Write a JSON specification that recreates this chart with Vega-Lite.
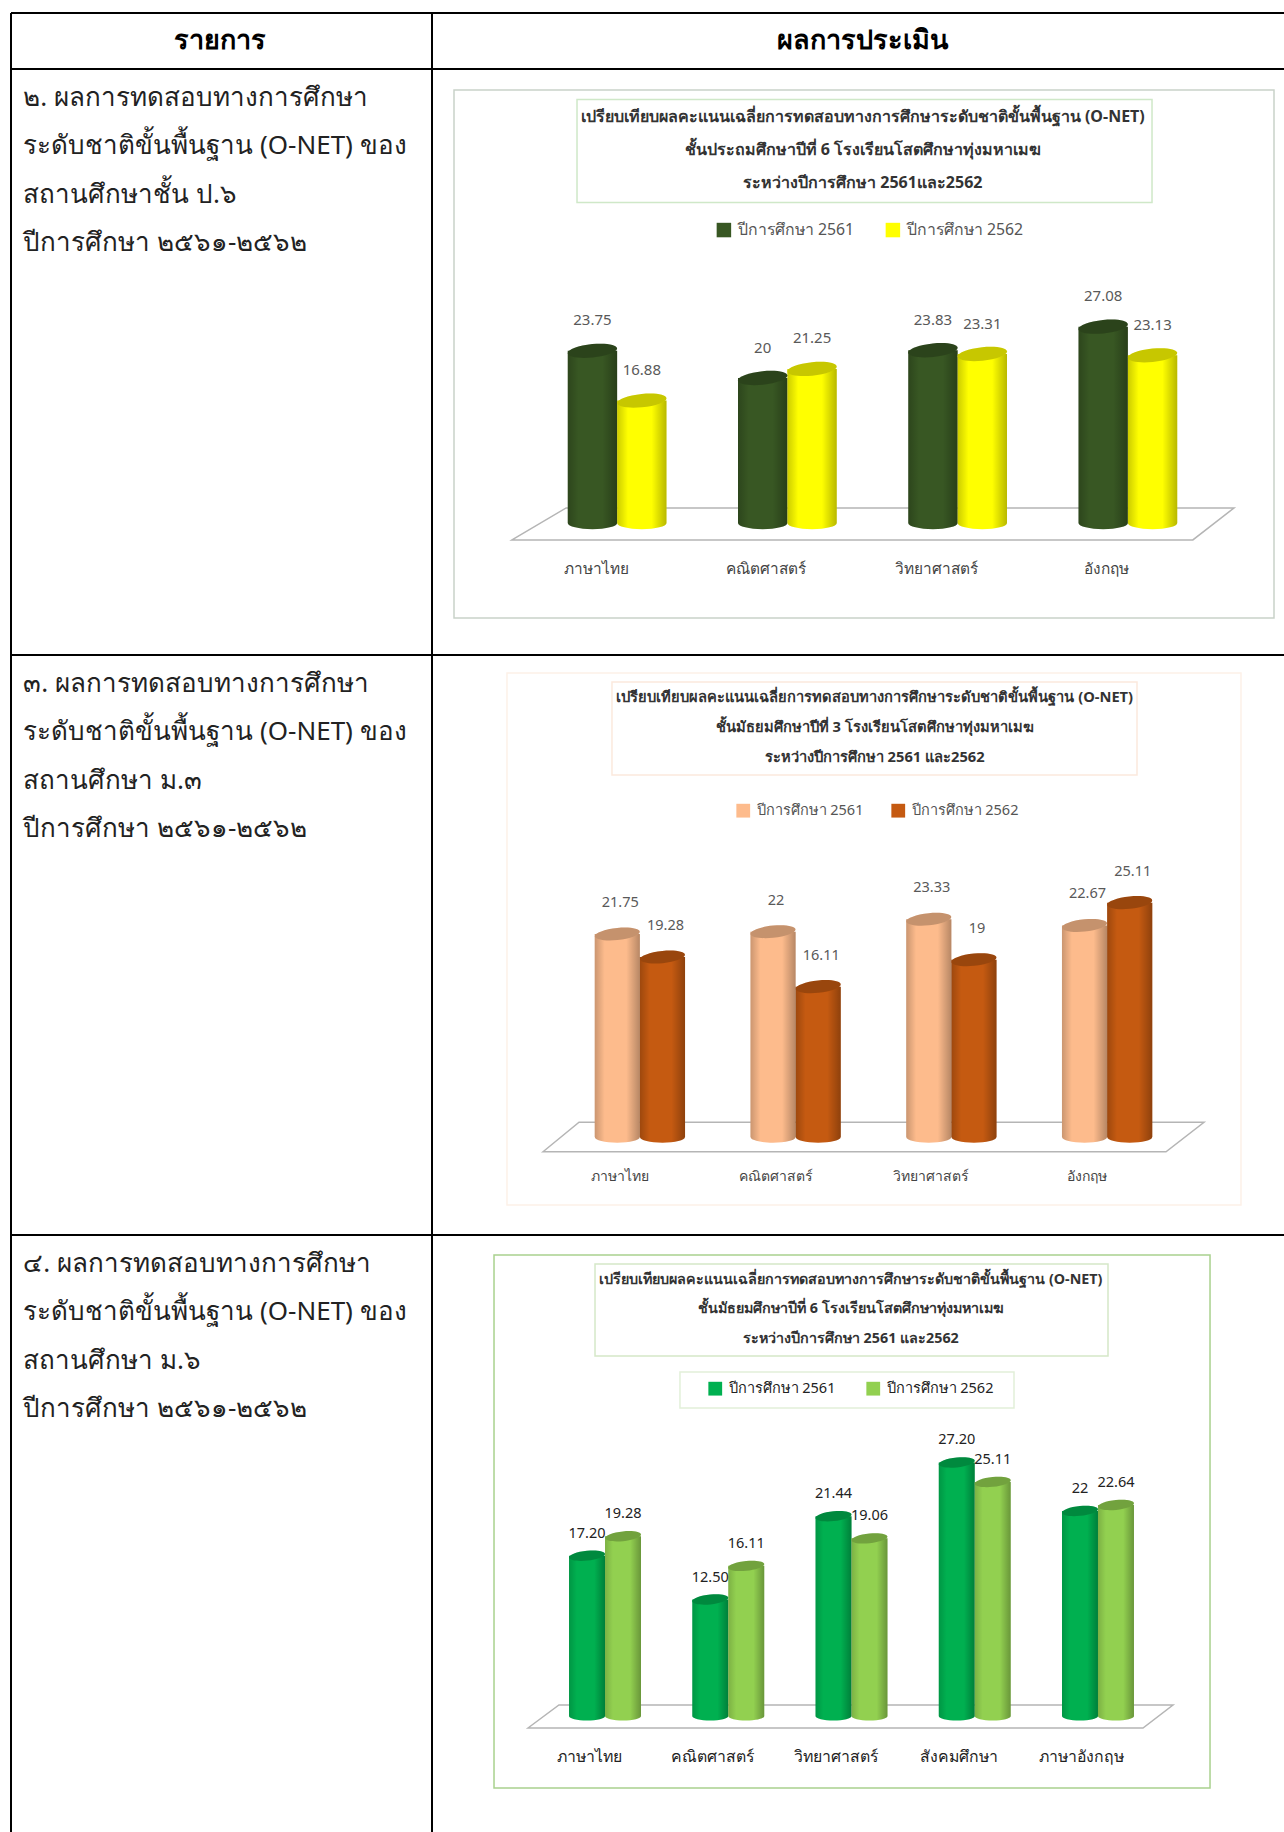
{"$schema":"https://vega.github.io/schema/vega-lite/v6.json","background":"white","padding":{"left":10,"top":12,"right":0,"bottom":0},"columns":2,"spacing":0,"align":"each","bounds":"flush","resolve":{"scale":{"color":"independent","xOffset":"independent"},"legend":{"color":"independent"}},"config":{"view":{"stroke":null},"font":"Noto Sans"},
"concat":[
{"width":421,"height":56,"layer":[
 {"data":{"values":[{}]},"mark":{"type":"rule","stroke":"black","strokeWidth":2},"encoding":{"y":{"datum":0,"type":"quantitative","scale":{"domain":[0,100],"reverse":true},"axis":null}}},
 {"data":{"values":[{}]},"mark":{"type":"rule","stroke":"black","strokeWidth":2},"encoding":{"x":{"datum":0,"type":"quantitative","scale":{"domain":[0,100]},"axis":null}}},
 {"data":{"values":[{"t":"รายการ"}]},"mark":{"type":"text","fontSize":27,"fontWeight":"bold","color":"black"},"encoding":{"x":{"datum":49.7,"type":"quantitative"},"text":{"field":"t"}}}]},
{"width":853,"height":56,"layer":[
 {"data":{"values":[{}]},"mark":{"type":"rule","stroke":"black","strokeWidth":2},"encoding":{"y":{"datum":0,"type":"quantitative","scale":{"domain":[0,100],"reverse":true},"axis":null}}},
 {"data":{"values":[{}]},"mark":{"type":"rule","stroke":"black","strokeWidth":2},"encoding":{"x":{"datum":0,"type":"quantitative","scale":{"domain":[0,100]},"axis":null}}},
 {"data":{"values":[{"t":"ผลการประเมิน"}]},"mark":{"type":"text","fontSize":27,"fontWeight":"bold","color":"black"},"encoding":{"x":{"datum":50.5,"type":"quantitative"},"text":{"field":"t"}}}]},
{"width":421,"height":586,"layer":[
 {"data":{"values":[{}]},"mark":{"type":"rule","stroke":"black","strokeWidth":2},"encoding":{"y":{"datum":0,"type":"quantitative","scale":{"domain":[0,100],"reverse":true},"axis":null}}},
 {"data":{"values":[{}]},"mark":{"type":"rule","stroke":"black","strokeWidth":2},"encoding":{"x":{"datum":0,"type":"quantitative","scale":{"domain":[0,100]},"axis":null}}},
 {"data":{"values":[{"line":1,"text":"๒. ผลการทดสอบทางการศึกษา"},{"line":2,"text":"ระดับชาติขั้นพื้นฐาน (O-NET) ของ"},{"line":3,"text":"สถานศึกษาชั้น ป.๖"},{"line":4,"text":"ปีการศึกษา ๒๕๖๑-๒๕๖๒"}]},"mark":{"type":"text","align":"left","baseline":"middle","fontSize":26,"color":"#222222"},"encoding":{"x":{"datum":2.9,"type":"quantitative","scale":{"domain":[0,100]},"axis":null},"y":{"field":"line","type":"quantitative","scale":{"domain":[0.4,12.53],"reverse":true},"axis":null},"text":{"field":"text"}}}],"resolve":{"scale":{"x":"independent","y":"independent"}}},
{"width":853,"height":586,"resolve":{"scale":{"x":"independent","y":"independent"}},"layer":[
 {"data":{"values":[{}]},"layer":[
  {"mark":{"type":"rect","fill":"white","stroke":"#c9d2c9","strokeWidth":1.5},"encoding":{"x":{"datum":2.58,"type":"quantitative","scale":{"domain":[0,100]},"axis":null},"x2":{"datum":98.71},"y":{"datum":3.58,"type":"quantitative","scale":{"domain":[0,100],"reverse":true},"axis":null},"y2":{"datum":93.69}}},
  {"mark":{"type":"rect","fill":"white","stroke":"#cfe8c8","strokeWidth":1.5},"encoding":{"x":{"datum":17,"type":"quantitative"},"x2":{"datum":84.41},"y":{"datum":5.2,"type":"quantitative"},"y2":{"datum":22.8}}},
  {"mark":{"type":"rule","stroke":"black","strokeWidth":2},"encoding":{"y":{"datum":0,"type":"quantitative"}}},
  {"mark":{"type":"rule","stroke":"black","strokeWidth":2},"encoding":{"x":{"datum":0,"type":"quantitative"}}},
  {"mark":{"type":"point","shape":"M-1,0.0443L-0.85,-0.0443L1,-0.0443L0.886,0.0443Z","size":521284,"filled":true,"fill":"white","stroke":"#b5b5b5","strokeWidth":1.5,"opacity":1},"encoding":{"x":{"datum":51.7,"type":"quantitative"},"y":{"datum":77.64,"type":"quantitative"}}}]},
 {"data":{"values":[{"line":1,"text":"เปรียบเทียบผลคะแนนเฉลี่ยการทดสอบทางการศึกษาระดับชาติขั้นพื้นฐาน (O-NET)"},{"line":2,"text":"ชั้นประถมศึกษาปีที่ 6  โรงเรียนโสตศึกษาทุ่งมหาเมฆ"},{"line":3,"text":"ระหว่างปีการศึกษา 2561และ2562"}]},"mark":{"type":"text","align":"center","baseline":"middle","fontSize":16,"fontWeight":"bold","color":"#333333"},"encoding":{"x":{"datum":50.5,"type":"quantitative","scale":{"domain":[0,100]},"axis":null},"y":{"field":"line","type":"quantitative","scale":{"domain":[-0.4545,17.3],"reverse":true},"axis":null},"text":{"field":"text"}}},
 {"data":{"values":[{"subject":"ภาษาไทย","year":"ปีการศึกษา 2561","value":23.75,"label":"23.75"},{"subject":"ภาษาไทย","year":"ปีการศึกษา 2562","value":16.88,"label":"16.88"},{"subject":"คณิตศาสตร์","year":"ปีการศึกษา 2561","value":20,"label":"20"},{"subject":"คณิตศาสตร์","year":"ปีการศึกษา 2562","value":21.25,"label":"21.25"},{"subject":"วิทยาศาสตร์","year":"ปีการศึกษา 2561","value":23.83,"label":"23.83"},{"subject":"วิทยาศาสตร์","year":"ปีการศึกษา 2562","value":23.31,"label":"23.31"},{"subject":"อังกฤษ","year":"ปีการศึกษา 2561","value":27.08,"label":"27.08"},{"subject":"อังกฤษ","year":"ปีการศึกษา 2562","value":23.13,"label":"23.13"}]},
  "encoding":{"x":{"field":"subject","type":"nominal","sort":null,"scale":{"range":[100,781],"paddingInner":0.42,"paddingOuter":0.21},"axis":{"orient":"bottom","title":null,"domain":false,"ticks":false,"zindex":1,"labelAngle":0,"labelOffset":-21,"offset":-94,"labelPadding":0,"labelFontSize":15.4,"labelColor":"#444444","labelFont":"Noto Sans"}},"xOffset":{"field":"year","type":"nominal"},"y":{"field":"value","type":"quantitative","stack":null,"scale":{"domain":[0,30],"range":[454,236.5]},"axis":null}},
  "layer":[
   {"mark":{"type":"bar"},"encoding":{"color":{"field":"year","type":"nominal","scale":{"domain":["ปีการศึกษา 2561","ปีการศึกษา 2562"],"range":["#385723","#ffff00"]},"legend":{"title":null,"orient":"none","legendX":284,"legendY":153,"direction":"horizontal","columns":2,"symbolType":"square","symbolSize":210,"symbolStrokeWidth":0,"labelFontSize":15.8,"labelColor":"#555555","labelFont":"Noto Sans","labelOffset":6,"columnPadding":30}}}},
   {"mark":{"type":"point","shape":"M-1,0A1,0.25,0,0,0,1,0Z","size":2440,"filled":true,"opacity":1},"encoding":{"y":{"datum":0,"type":"quantitative"},"color":{"field":"year","type":"nominal","legend":null}}},
   {"mark":{"type":"bar","fill":{"gradient":"linear","x1":0,"x2":1,"y1":0,"y2":0,"stops":[{"offset":0,"color":"rgba(0,0,0,0.2)"},{"offset":0.22,"color":"rgba(0,0,0,0)"},{"offset":0.7,"color":"rgba(0,0,0,0)"},{"offset":1,"color":"rgba(0,0,0,0.28)"}]}}},
   {"mark":{"type":"point","shape":"M-1,0A1,0.25,0,0,0,1,0Z","size":2440,"filled":true,"opacity":1,"fill":{"gradient":"linear","x1":0,"x2":1,"y1":0,"y2":0,"stops":[{"offset":0,"color":"rgba(0,0,0,0.2)"},{"offset":0.22,"color":"rgba(0,0,0,0)"},{"offset":0.7,"color":"rgba(0,0,0,0)"},{"offset":1,"color":"rgba(0,0,0,0.28)"}]}},"encoding":{"y":{"datum":0,"type":"quantitative"}}},
   {"mark":{"type":"point","shape":"M-1,0.1A1,0.27,-6,1,1,1,-0.1A1,0.27,-6,1,1,-1,0.1Z","size":2440,"filled":true,"opacity":1},"encoding":{"color":{"field":"year","type":"nominal","legend":null}}},
   {"mark":{"type":"point","shape":"M-1,0.1A1,0.27,-6,1,1,1,-0.1A1,0.27,-6,1,1,-1,0.1Z","size":2440,"filled":true,"fill":"black","opacity":0.22}},
   {"mark":{"type":"text","dy":-30.5,"dx":0,"fontSize":15,"color":"#595959"},"encoding":{"text":{"field":"label"}}}]}]},
{"width":421,"height":580,"layer":[
 {"data":{"values":[{}]},"mark":{"type":"rule","stroke":"black","strokeWidth":2},"encoding":{"y":{"datum":0,"type":"quantitative","scale":{"domain":[0,100],"reverse":true},"axis":null}}},
 {"data":{"values":[{}]},"mark":{"type":"rule","stroke":"black","strokeWidth":2},"encoding":{"x":{"datum":0,"type":"quantitative","scale":{"domain":[0,100]},"axis":null}}},
 {"data":{"values":[{"line":1,"text":"๓. ผลการทดสอบทางการศึกษา"},{"line":2,"text":"ระดับชาติขั้นพื้นฐาน (O-NET) ของ"},{"line":3,"text":"สถานศึกษา ม.๓"},{"line":4,"text":"ปีการศึกษา ๒๕๖๑-๒๕๖๒"}]},"mark":{"type":"text","align":"left","baseline":"middle","fontSize":26,"color":"#222222"},"encoding":{"x":{"datum":2.9,"type":"quantitative","scale":{"domain":[0,100]},"axis":null},"y":{"field":"line","type":"quantitative","scale":{"domain":[0.4,12.41],"reverse":true},"axis":null},"text":{"field":"text"}}}],"resolve":{"scale":{"x":"independent","y":"independent"}}},
{"width":853,"height":580,"resolve":{"scale":{"x":"independent","y":"independent"}},"layer":[
 {"data":{"values":[{}]},"layer":[
  {"mark":{"type":"rect","fill":"white","stroke":"#fdf1e8","strokeWidth":1.5},"encoding":{"x":{"datum":8.79,"type":"quantitative","scale":{"domain":[0,100]},"axis":null},"x2":{"datum":94.84},"y":{"datum":3.1,"type":"quantitative","scale":{"domain":[0,100],"reverse":true},"axis":null},"y2":{"datum":94.83}}},
  {"mark":{"type":"rect","fill":"white","stroke":"#fbe9dd","strokeWidth":1.5},"encoding":{"x":{"datum":21.1,"type":"quantitative"},"x2":{"datum":82.65},"y":{"datum":4.66,"type":"quantitative"},"y2":{"datum":20.69}}},
  {"mark":{"type":"rule","stroke":"black","strokeWidth":2},"encoding":{"y":{"datum":0,"type":"quantitative"}}},
  {"mark":{"type":"rule","stroke":"black","strokeWidth":2},"encoding":{"x":{"datum":0,"type":"quantitative"}}},
  {"mark":{"type":"point","shape":"M-1,0.0446L-0.891,-0.0446L1,-0.0446L0.885,0.0446Z","size":436921,"filled":true,"fill":"white","stroke":"#b5b5b5","strokeWidth":1.5,"opacity":1},"encoding":{"x":{"datum":51.76,"type":"quantitative"},"y":{"datum":83.1,"type":"quantitative"}}}]},
 {"data":{"values":[{"line":1,"text":"เปรียบเทียบผลคะแนนเฉลี่ยการทดสอบทางการศึกษาระดับชาติขั้นพื้นฐาน (O-NET)"},{"line":2,"text":"ชั้นมัธยมศึกษาปีที่ 3  โรงเรียนโสตศึกษาทุ่งมหาเมฆ"},{"line":3,"text":"ระหว่างปีการศึกษา 2561 และ2562"}]},"mark":{"type":"text","align":"center","baseline":"middle","fontSize":14.7,"fontWeight":"bold","color":"#333333"},"encoding":{"x":{"datum":51.9,"type":"quantitative","scale":{"domain":[0,100]},"axis":null},"y":{"field":"line","type":"quantitative","scale":{"domain":[-0.433,18.9],"reverse":true},"axis":null},"text":{"field":"text"}}},
 {"data":{"values":[{"subject":"ภาษาไทย","year":"ปีการศึกษา 2561","value":21.75,"label":"21.75"},{"subject":"ภาษาไทย","year":"ปีการศึกษา 2562","value":19.28,"label":"19.28"},{"subject":"คณิตศาสตร์","year":"ปีการศึกษา 2561","value":22,"label":"22"},{"subject":"คณิตศาสตร์","year":"ปีการศึกษา 2562","value":16.11,"label":"16.11"},{"subject":"วิทยาศาสตร์","year":"ปีการศึกษา 2561","value":23.33,"label":"23.33"},{"subject":"วิทยาศาสตร์","year":"ปีการศึกษา 2562","value":19,"label":"19"},{"subject":"อังกฤษ","year":"ปีการศึกษา 2561","value":22.67,"label":"22.67"},{"subject":"อังกฤษ","year":"ปีการศึกษา 2562","value":25.11,"label":"25.11"}]},
  "encoding":{"x":{"field":"subject","type":"nominal","sort":null,"scale":{"range":[130,753],"paddingInner":0.42,"paddingOuter":0.21},"axis":{"orient":"bottom","title":null,"domain":false,"ticks":false,"zindex":1,"labelAngle":0,"labelOffset":-20,"offset":-66,"labelPadding":0,"labelFontSize":14,"labelColor":"#444444","labelFont":"Noto Sans"}},"xOffset":{"field":"year","type":"nominal"},"y":{"field":"value","type":"quantitative","stack":null,"scale":{"domain":[0,30],"range":[482,202]},"axis":null}},
  "layer":[
   {"mark":{"type":"bar"},"encoding":{"color":{"field":"year","type":"nominal","scale":{"domain":["ปีการศึกษา 2561","ปีการศึกษา 2562"],"range":["#fdbb8c","#c55a11"]},"legend":{"title":null,"orient":"none","legendX":304,"legendY":148,"direction":"horizontal","columns":2,"symbolType":"square","symbolSize":190,"symbolStrokeWidth":0,"labelFontSize":14.5,"labelColor":"#555555","labelFont":"Noto Sans","labelOffset":6,"columnPadding":27}}}},
   {"mark":{"type":"point","shape":"M-1,0A1,0.25,0,0,0,1,0Z","size":2025,"filled":true,"opacity":1},"encoding":{"y":{"datum":0,"type":"quantitative"},"color":{"field":"year","type":"nominal","legend":null}}},
   {"mark":{"type":"bar","fill":{"gradient":"linear","x1":0,"x2":1,"y1":0,"y2":0,"stops":[{"offset":0,"color":"rgba(0,0,0,0.2)"},{"offset":0.22,"color":"rgba(0,0,0,0)"},{"offset":0.7,"color":"rgba(0,0,0,0)"},{"offset":1,"color":"rgba(0,0,0,0.28)"}]}}},
   {"mark":{"type":"point","shape":"M-1,0A1,0.25,0,0,0,1,0Z","size":2025,"filled":true,"opacity":1,"fill":{"gradient":"linear","x1":0,"x2":1,"y1":0,"y2":0,"stops":[{"offset":0,"color":"rgba(0,0,0,0.2)"},{"offset":0.22,"color":"rgba(0,0,0,0)"},{"offset":0.7,"color":"rgba(0,0,0,0)"},{"offset":1,"color":"rgba(0,0,0,0.28)"}]}},"encoding":{"y":{"datum":0,"type":"quantitative"}}},
   {"mark":{"type":"point","shape":"M-1,0.1A1,0.27,-6,1,1,1,-0.1A1,0.27,-6,1,1,-1,0.1Z","size":2025,"filled":true,"opacity":1},"encoding":{"color":{"field":"year","type":"nominal","legend":null}}},
   {"mark":{"type":"point","shape":"M-1,0.1A1,0.27,-6,1,1,1,-0.1A1,0.27,-6,1,1,-1,0.1Z","size":2025,"filled":true,"fill":"black","opacity":0.22}},
   {"mark":{"type":"text","dy":-31,"dx":3,"fontSize":14.5,"color":"#595959"},"encoding":{"text":{"field":"label"}}}]}]},
{"width":421,"height":598,"layer":[
 {"data":{"values":[{}]},"mark":{"type":"rule","stroke":"black","strokeWidth":2},"encoding":{"y":{"datum":0,"type":"quantitative","scale":{"domain":[0,100],"reverse":true},"axis":null}}},
 {"data":{"values":[{}]},"mark":{"type":"rule","stroke":"black","strokeWidth":2},"encoding":{"x":{"datum":0,"type":"quantitative","scale":{"domain":[0,100]},"axis":null}}},
 {"data":{"values":[{"line":1,"text":"๔. ผลการทดสอบทางการศึกษา"},{"line":2,"text":"ระดับชาติขั้นพื้นฐาน (O-NET) ของ"},{"line":3,"text":"สถานศึกษา ม.๖"},{"line":4,"text":"ปีการศึกษา ๒๕๖๑-๒๕๖๒"}]},"mark":{"type":"text","align":"left","baseline":"middle","fontSize":26,"color":"#222222"},"encoding":{"x":{"datum":2.9,"type":"quantitative","scale":{"domain":[0,100]},"axis":null},"y":{"field":"line","type":"quantitative","scale":{"domain":[0.4,12.78],"reverse":true},"axis":null},"text":{"field":"text"}}}],"resolve":{"scale":{"x":"independent","y":"independent"}}},
{"width":853,"height":598,"resolve":{"scale":{"x":"independent","y":"independent"}},"layer":[
 {"data":{"values":[{}]},"layer":[
  {"mark":{"type":"rect","fill":"white","stroke":"#a9d18e","strokeWidth":1.5},"encoding":{"x":{"datum":7.27,"type":"quantitative","scale":{"domain":[0,100]},"axis":null},"x2":{"datum":91.21},"y":{"datum":3.34,"type":"quantitative","scale":{"domain":[0,100],"reverse":true},"axis":null},"y2":{"datum":92.47}}},
  {"mark":{"type":"rect","fill":"white","stroke":"#d5e8c8","strokeWidth":1.5},"encoding":{"x":{"datum":19.11,"type":"quantitative"},"x2":{"datum":79.25},"y":{"datum":4.85,"type":"quantitative"},"y2":{"datum":20.23}}},
  {"mark":{"type":"rect","fill":"white","stroke":"#e2f0d9","strokeWidth":1.5},"encoding":{"x":{"datum":29.07,"type":"quantitative"},"x2":{"datum":68.23},"y":{"datum":22.91,"type":"quantitative"},"y2":{"datum":28.93}}},
  {"mark":{"type":"rule","stroke":"black","strokeWidth":2},"encoding":{"y":{"datum":0,"type":"quantitative"}}},
  {"mark":{"type":"rule","stroke":"black","strokeWidth":2},"encoding":{"x":{"datum":0,"type":"quantitative"}}},
  {"mark":{"type":"point","shape":"M-1,0.0357L-0.904,-0.0357L1,-0.0357L0.907,0.0357Z","size":416025,"filled":true,"fill":"white","stroke":"#b5b5b5","strokeWidth":1.5,"opacity":1},"encoding":{"x":{"datum":49.06,"type":"quantitative"},"y":{"datum":80.52,"type":"quantitative"}}}]},
 {"data":{"values":[{"line":1,"text":"เปรียบเทียบผลคะแนนเฉลี่ยการทดสอบทางการศึกษาระดับชาติขั้นพื้นฐาน (O-NET)"},{"line":2,"text":"ชั้นมัธยมศึกษาปีที่ 6  โรงเรียนโสตศึกษาทุ่งมหาเมฆ"},{"line":3,"text":"ระหว่างปีการศึกษา 2561 และ2562"}]},"mark":{"type":"text","align":"center","baseline":"middle","fontSize":14.3,"fontWeight":"bold","color":"#333333"},"encoding":{"x":{"datum":49.1,"type":"quantitative","scale":{"domain":[0,100]},"axis":null},"y":{"field":"line","type":"quantitative","scale":{"domain":[-0.525,19.75],"reverse":true},"axis":null},"text":{"field":"text"}}},
 {"data":{"values":[{"subject":"ภาษาไทย","year":"ปีการศึกษา 2561","value":17.2,"label":"17.20"},{"subject":"ภาษาไทย","year":"ปีการศึกษา 2562","value":19.28,"label":"19.28"},{"subject":"คณิตศาสตร์","year":"ปีการศึกษา 2561","value":12.5,"label":"12.50"},{"subject":"คณิตศาสตร์","year":"ปีการศึกษา 2562","value":16.11,"label":"16.11"},{"subject":"วิทยาศาสตร์","year":"ปีการศึกษา 2561","value":21.44,"label":"21.44"},{"subject":"วิทยาศาสตร์","year":"ปีการศึกษา 2562","value":19.06,"label":"19.06"},{"subject":"สังคมศึกษา","year":"ปีการศึกษา 2561","value":27.2,"label":"27.20"},{"subject":"สังคมศึกษา","year":"ปีการศึกษา 2562","value":25.11,"label":"25.11"},{"subject":"ภาษาอังกฤษ","year":"ปีการศึกษา 2561","value":22,"label":"22"},{"subject":"ภาษาอังกฤษ","year":"ปีการศึกษา 2562","value":22.64,"label":"22.64"}]},
  "encoding":{"x":{"field":"subject","type":"nominal","sort":null,"scale":{"range":[111.4,727.6],"paddingInner":0.416,"paddingOuter":0.208},"axis":{"orient":"bottom","title":null,"domain":false,"ticks":false,"zindex":1,"labelAngle":0,"labelOffset":-16,"offset":-84,"labelPadding":0,"labelFontSize":15.8,"labelColor":"#222222","labelFont":"Noto Sans"}},"xOffset":{"field":"year","type":"nominal"},"y":{"field":"value","type":"quantitative","stack":null,"scale":{"domain":[0,30],"range":[481,201.4]},"axis":null}},
  "layer":[
   {"mark":{"type":"bar"},"encoding":{"color":{"field":"year","type":"nominal","scale":{"domain":["ปีการศึกษา 2561","ปีการศึกษา 2562"],"range":["#00b050","#92d050"]},"legend":{"title":null,"orient":"none","legendX":276,"legendY":146,"direction":"horizontal","columns":2,"symbolType":"square","symbolSize":190,"symbolStrokeWidth":0,"labelFontSize":14.5,"labelColor":"#222222","labelFont":"Noto Sans","labelOffset":6,"columnPadding":30}}}},
   {"mark":{"type":"point","shape":"M-1,0A1,0.25,0,0,0,1,0Z","size":1296,"filled":true,"opacity":1},"encoding":{"y":{"datum":0,"type":"quantitative"},"color":{"field":"year","type":"nominal","legend":null}}},
   {"mark":{"type":"bar","fill":{"gradient":"linear","x1":0,"x2":1,"y1":0,"y2":0,"stops":[{"offset":0,"color":"rgba(0,0,0,0.15)"},{"offset":0.22,"color":"rgba(0,0,0,0)"},{"offset":0.7,"color":"rgba(0,0,0,0)"},{"offset":1,"color":"rgba(0,0,0,0.28)"}]}}},
   {"mark":{"type":"point","shape":"M-1,0A1,0.25,0,0,0,1,0Z","size":1296,"filled":true,"opacity":1,"fill":{"gradient":"linear","x1":0,"x2":1,"y1":0,"y2":0,"stops":[{"offset":0,"color":"rgba(0,0,0,0.15)"},{"offset":0.22,"color":"rgba(0,0,0,0)"},{"offset":0.7,"color":"rgba(0,0,0,0)"},{"offset":1,"color":"rgba(0,0,0,0.28)"}]}},"encoding":{"y":{"datum":0,"type":"quantitative"}}},
   {"mark":{"type":"point","shape":"M-1,0.1A1,0.27,-6,1,1,1,-0.1A1,0.27,-6,1,1,-1,0.1Z","size":1296,"filled":true,"opacity":1},"encoding":{"color":{"field":"year","type":"nominal","legend":null}}},
   {"mark":{"type":"point","shape":"M-1,0.1A1,0.27,-6,1,1,1,-0.1A1,0.27,-6,1,1,-1,0.1Z","size":1296,"filled":true,"fill":"black","opacity":0.22}},
   {"mark":{"type":"text","dy":-22,"dx":0,"fontSize":14.5,"color":"#222222"},"encoding":{"text":{"field":"label"}}}]}]}
]}
